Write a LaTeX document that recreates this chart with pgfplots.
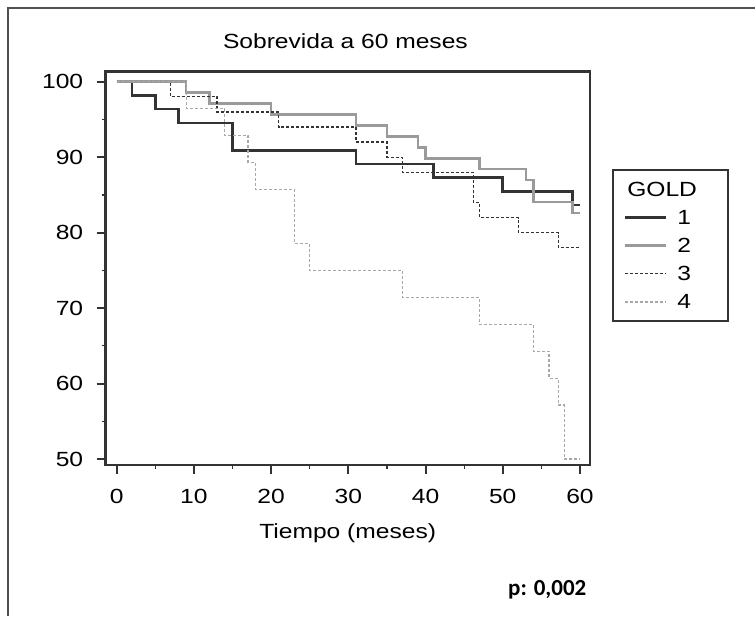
\documentclass[border=0pt]{standalone}
\usepackage{pgfplots}
\pgfplotsset{compat=1.18}
\usepackage{fontspec}
\setmainfont{Liberation Sans}[FakeStretch=1.2]
\newfontfamily\pfont{Carlito}
\definecolor{axc}{HTML}{333333}
\definecolor{frm}{HTML}{505050}
\definecolor{gA}{HTML}{333333}
\definecolor{gB}{HTML}{9A9A9A}
\definecolor{gC}{HTML}{333333}
\definecolor{gD}{HTML}{A8A8A8}
\newcommand{\fs}{\fontsize{20.5}{24}\selectfont}

\begin{document}
\begin{tikzpicture}
\useasboundingbox (0pt,0pt) rectangle (755pt,616pt);
% outer frame (left and top only)
\draw[line width=2.3pt, color=frm] (8pt,0pt) -- (8pt,608pt) -- (755pt,608pt);

\begin{axis}[
  at={(105.7pt,151pt)}, anchor=south west,
  scale only axis, width=484.3pt, height=393.3pt,
  xmin=-1.42, xmax=61.3, ymin=49.2, ymax=101.33,
  axis line style={line width=2.6pt, color=axc},
  xtick={0,10,...,60}, ytick={50,60,...,100},
  minor xtick={5,15,...,55}, minor ytick={55,65,...,95},
  xtick pos=bottom, ytick pos=left, tick align=outside,
  major tick length=9pt, minor tick length=4pt,
  every major tick/.append style={line width=2pt, color=axc},
  every minor tick/.append style={line width=1.2pt, color=axc},
  /pgf/number format/assume math mode=true,
  ticklabel style={font=\fs},
  xticklabel style={yshift=-12pt},
  yticklabel style={xshift=-10pt},
  title={Sobrevida a 60 meses},
  title style={at={(axis description cs:0.4950,1.0628)}, anchor=center, font=\fs, inner sep=0pt},
  xlabel={Tiempo (meses)},
  xlabel style={at={(axis description cs:0.4997,-0.1729)}, anchor=center, font=\fs, inner sep=0pt},
  legend cell align=left,
  legend style={at={(axis description cs:1.046,0.7526)}, anchor=north west,
    draw=axc, line width=2.2pt, font=\fs,
    inner xsep=10.5pt, inner ysep=12.3pt,
    column sep=10pt, row sep=14.6pt,
    nodes={inner sep=0pt, text height=13.6pt, text depth=0pt, text width=40pt}},
  legend image code/.code={\draw[#1] (0pt,0pt) -- (41pt,0pt);},
]
\addlegendimage{legend image code/.code={\node[overlay, anchor=west, text width=70pt, inner sep=0pt] at (1pt,0pt) {GOLD};}}
\addlegendentry{}

\addplot[const plot, color=gA, line width=2.6pt] coordinates {
  (0,100) (2,98.18) (5,96.36) (8,94.55) (15,90.91) (31,89.09)
  (41,87.27) (50,85.45) (59,83.64) (60,83.64)};
\addlegendentry{1}

\addplot[const plot, color=gB, line width=2.6pt] coordinates {
  (0,100) (9,98.55) (12,97.10) (20,95.65) (31,94.20) (35,92.75)
  (39,91.30) (40,89.86) (47,88.41) (53,86.96) (54,84.06) (59,82.61) (60,82.61)};
\addlegendentry{2}

\addplot[const plot, color=gC, line width=1.2pt, dash pattern=on 3pt off 2pt] coordinates {
  (0,100) (7,98) (13,96) (21,94) (31,92) (35,90) (37,88)
  (46.2,84) (47,82) (52,80) (57.2,78) (60,78)};
\addlegendentry{3}

\addplot[const plot, color=gD, line width=1.2pt, dash pattern=on 3pt off 2pt] coordinates {
  (0,100) (9,96.43) (14,92.86) (17,89.29) (18,85.71) (23,78.57) (25,75)
  (37,71.43) (47,67.86) (54,64.29) (56,60.71) (57.2,57.14) (58,50) (60,50)};
\addlegendentry{4}
\end{axis}

\node[anchor=base west, inner sep=0pt, font=\pfont\bfseries\fontsize{23}{27}\selectfont] at (508pt,21pt) {p: 0,002};
\end{tikzpicture}
\end{document}
